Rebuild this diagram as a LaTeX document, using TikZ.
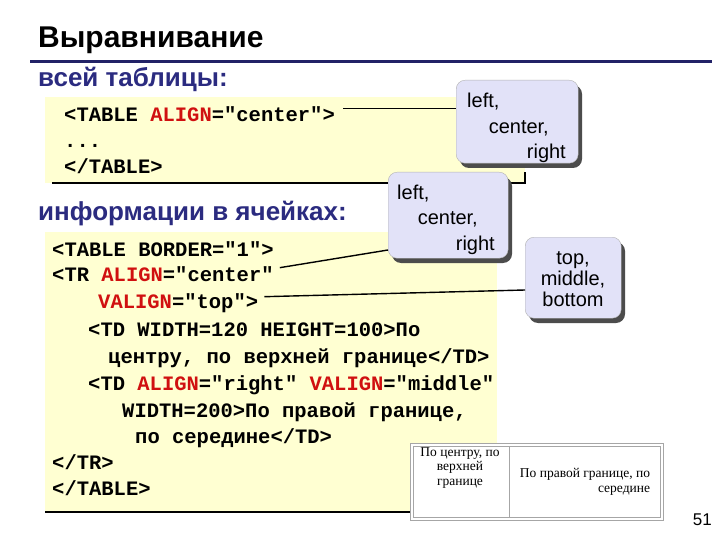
\documentclass[tikz,border=0pt]{standalone}
\usepackage{fontspec}
\setmainfont{Liberation Sans}
\newfontfamily\codefont{Liberation Mono}
\newfontfamily\serfont{Liberation Serif}
\begin{document}
\begin{tikzpicture}[x=1pt,y=-1pt,
  code/.style={anchor=base west,inner sep=0pt,font=\codefont\bfseries\fontsize{20.5}{21}\selectfont},
  head/.style={anchor=base west,inner sep=0pt,text=navy,font=\bfseries\fontsize{26}{26}\selectfont},
  callout/.style={fill=lav,draw=gray!60,rounded corners=9pt},
  shade/.style={fill=black!70,rounded corners=9pt},
  note/.style={inner sep=0pt,font=\fontsize{20}{20}\selectfont},
  link/.style={draw=black,line width=1.4pt}]
\definecolor{navy}{HTML}{2B2B80}
\definecolor{yfill}{HTML}{FFFFD2}
\definecolor{lav}{HTML}{E2E2F8}
\definecolor{red}{HTML}{D01010}
\useasboundingbox (0,0) rectangle (720,540);
\fill[white] (0,0) rectangle (720,540);
\node[anchor=base west,inner sep=0pt,font=\bfseries\fontsize{30}{30}\selectfont] (title) at (38,48) {Выравнивание};
\draw[navy!80!black,line width=3pt] (30,62) -- (712,62);
\node[head] (h1) at (38,87) {всей таблицы:};
% box 1
\fill[yfill] (45,97) rectangle (525,183);
\draw[line width=1.5pt] (52,183) -- (525,183) -- (525,172);
\node[code] (c1) at (64,122) {<TABLE \textcolor{red}{ALIGN}="center">};
\node[code] (c2) at (64,148) {...};
\node[code] (c3) at (64,174) {</TABLE>};
% callout 1
\fill[shade] (460,85) rectangle (582,168);
\node[callout,minimum width=122pt,minimum height=83pt,anchor=north west] (k1) at (456,80) {};
\node[note,anchor=base west] (t1a) at (467,108) {left,};
\node[note,anchor=base east] (t1b) at (549,134) {center,};
\node[note,anchor=base east] (t1c) at (566,159) {right};
\draw[link] (c1.east) ++(8,-6) coordinate (a1) -- (k1.west |- a1);
\node[head] (h2) at (38,221) {информации в ячейках:};
% box 2
\fill[yfill] (45,232) rectangle (497,512);
\draw[line width=1.5pt] (45,512) -- (497,512) -- (497,500);
\node[code] (d1) at (52,256) {<TABLE BORDER="1">};
\node[code] (d2) at (52,281) {<TR \textcolor{red}{ALIGN}="center"};
\node[code] (d3) at (98,308) {\textcolor{red}{VALIGN}="top">};
\node[code] (d4) at (88,336) {<TD WIDTH=120 HEIGHT=100>По};
\node[code] (d5) at (108,363) {центру, по верхней границе</TD>};
\node[code] (d6) at (88,390) {<TD \textcolor{red}{ALIGN}="right" \textcolor{red}{VALIGN}="middle"};
\node[code] (d7) at (122,417) {WIDTH=200>По правой границе,};
\node[code] (d8) at (135,443) {по середине</TD>};
\node[code] (d9) at (52,469) {</TR>};
\node[code] (d10) at (52,495) {</TABLE>};
% callout 2
\fill[shade] (392,177) rectangle (512,263);
\node[callout,minimum width=120pt,minimum height=86pt,anchor=north west] (k2) at (388,172) {};
\node[note,anchor=base west] (t2a) at (397,200) {left,};
\node[note,anchor=base east] (t2b) at (478,225) {center,};
\node[note,anchor=base east] (t2c) at (495,250) {right};
% callout 3
\fill[shade] (529,242) rectangle (625,323);
\node[callout,minimum width=96pt,minimum height=81pt,anchor=north west] (k3) at (525,237) {};
\node[note,align=center] (t3) at (573,279) {top,\\[1pt]middle,\\[1pt]bottom};
\draw[link] (d2.east) ++(6,-6) coordinate (a2) -- (k2.west |- 0,250);
\draw[link] (d3.east) ++(6,-6) coordinate (a3) -- (k3.west |- 0,290);
% rendered table
\draw[gray!70,fill=white] (410,443) rectangle (663,520);
\draw[gray!70] (413,446) rectangle (660,517);
\draw[gray!70] (509,446) -- (509,517);
\node[inner sep=0pt,align=center,font=\serfont\fontsize{13.5}{14.5}\selectfont] (x1) at (460,468) {По центру, по\\верхней\\границе};
\node[inner sep=0pt,align=right,font=\serfont\fontsize{13.5}{14.5}\selectfont] (x2) at (585,482) {По правой границе, по\\середине};
\node[anchor=base east,inner sep=0pt,font=\fontsize{17}{17}\selectfont] (pg) at (712,525) {51};
\end{tikzpicture}
\end{document}
